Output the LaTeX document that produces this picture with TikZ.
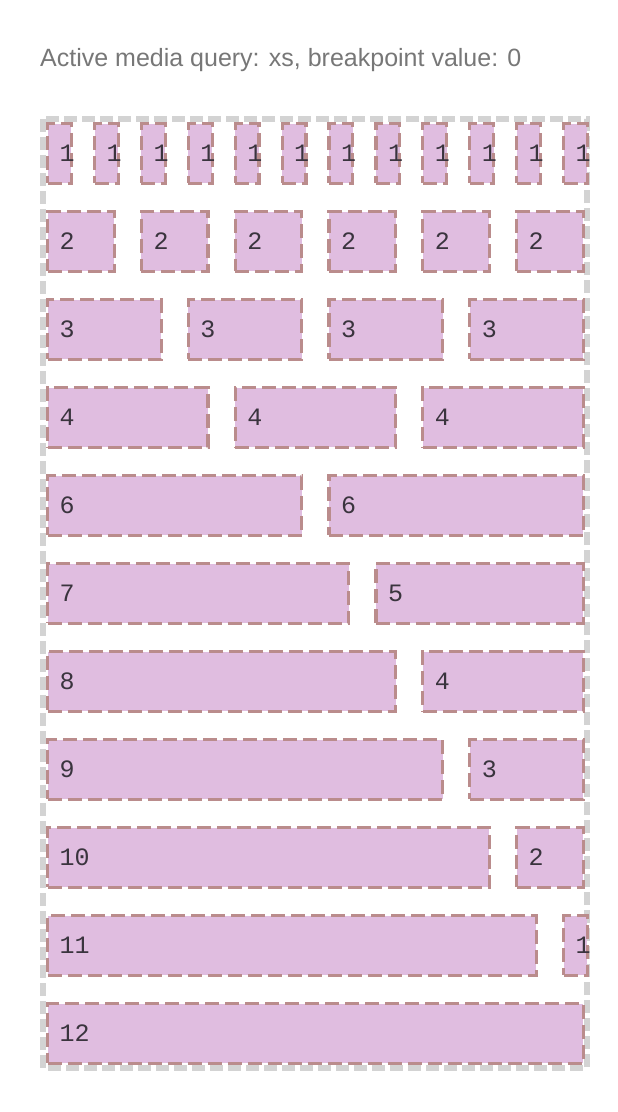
\documentclass[tikz,border=0pt]{standalone}
\usepackage{fontspec}
\setmainfont{Liberation Sans}
\setmonofont{Liberation Mono}
\usetikzlibrary{positioning}
\definecolor{colpink}{RGB}{224,189,224}
\definecolor{colline}{RGB}{186,140,140}
\definecolor{rowline}{RGB}{211,211,211}
\definecolor{querygray}{RGB}{119,119,119}
\definecolor{digitgray}{RGB}{58,52,62}
\tikzset{
  colbox/.style={draw=colline,fill=colpink,line width=3.2pt,dash pattern=on 14pt off 6pt,inner sep=0,anchor=north west,minimum height=59.8pt},
  collabel/.style={font=\fontsize{25}{25}\selectfont\ttfamily,text=digitgray,inner sep=0,anchor=west},
  gridline/.style={draw=rowline,line width=6pt,dash pattern=on 13pt off 5pt}
}

\begin{document}
\begin{tikzpicture}[x=1pt,y=-1pt]
\useasboundingbox (0,0) rectangle (618,1112);
\node[anchor=base west,inner sep=0,text=querygray,font=\fontsize{25}{30}\selectfont] (query) at (40,66) {Active media query: xs, breakpoint value: 0};
\draw[gridline] (43,119) rectangle (587,1068);
% one list of column spans per row
\foreach \spans [count=\r from 0] in {{1,1,1,1,1,1,1,1,1,1,1,1},{2,2,2,2,2,2},{3,3,3,3},{4,4,4},{6,6},{7,5},{8,4},{9,3},{10,2},{11,1},{12}} {
  \xdef\colstart{0}
  \foreach \n [count=\k] in \spans {
    \pgfmathsetmacro\boxw{max(27,\n*46.9-24)}
    \node[colbox,minimum width=\boxw pt-3.2pt] (box-\r-\k) at (46+\colstart*46.9,122+\r*88) {};
    \node[collabel] (lab-\r-\k) at ([xshift=13.5pt]box-\r-\k.west) {\n};
    \pgfmathsetmacro\nextstart{\colstart+\n}
    \xdef\colstart{\nextstart}
  }
}
\end{tikzpicture}
\end{document}
